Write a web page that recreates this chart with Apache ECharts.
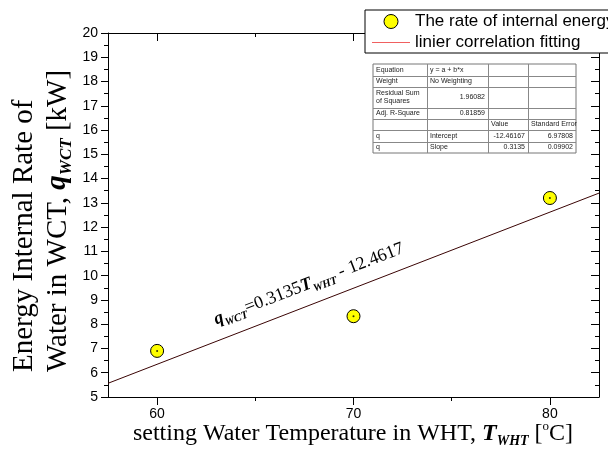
<!DOCTYPE html>
<html><head><meta charset="utf-8">
<script src="https://cdn.jsdelivr.net/npm/echarts@6/dist/echarts.min.js"></script>
<style>html,body{margin:0;padding:0;background:#fff}#c{width:608px;height:450px}</style>
</head><body><div id="c"></div>
<script>
// ---- data ----
const temperatures = [60, 70, 80];
const internalEnergyRate = [6.9, 8.33, 13.2];
const fitIntercept = -12.46167;
const fitSlope = 0.3135;
const xRange = [57.5, 82.5];
const yRange = [5, 20];
const xMajorTicks = [60, 70, 80];
const xMinorTicks = [65, 75];
const seriesNames = ['The rate of internal energy', 'linier correlation fitting'];
const tableRows = [
  ['Equation', 'y = a + b*x', '', ''],
  ['Weight', 'No Weighting', '', ''],
  ['Residual Sum\nof Squares', '1.96082', '', ''],
  ['Adj. R-Square', '0.81859', '', ''],
  ['', '', 'Value', 'Standard Error'],
  ['q', 'Intercept', '-12.46167', '6.97808'],
  ['q', 'Slope', '0.3135', '0.09902']
];

const scatterData = temperatures.map((t, i) => [t, internalEnergyRate[i]]);
const fitData = xRange.map(x => [x, fitIntercept + fitSlope * x]);

// ---- table graphics ----
const colX = [373, 427, 488, 528, 576];
const rowY = [64, 76, 87, 108, 119, 130, 142, 153];
const tableGraphics = [{type:'rect', shape:{x:colX[0], y:rowY[0], width:colX[4]-colX[0], height:rowY[7]-rowY[0]}, style:{fill:'#fff', stroke:'#777', lineWidth:1}, z:10}];
for (let r = 1; r < rowY.length - 1; r++) {
  tableGraphics.push({type:'line', shape:{x1:colX[0], y1:rowY[r]+0.5, x2:colX[4], y2:rowY[r]+0.5}, style:{stroke:'#888', lineWidth:1}, z:11});
}
for (let c = 1; c < colX.length - 1; c++) {
  tableGraphics.push({type:'line', shape:{x1:colX[c]+0.5, y1:rowY[0], x2:colX[c]+0.5, y2:rowY[7]}, style:{stroke:'#888', lineWidth:1}, z:11});
}
tableRows.forEach((row, r) => {
  row.forEach((txt, c) => {
    if (!txt) return;
    const rightAlign = (c >= 1 && r >= 2 && r <= 3) || (c >= 2 && r >= 5);
    const centerY = (rowY[r] + rowY[r+1]) / 2;
    tableGraphics.push({type:'text', z:12,
      style:{text: txt, x: rightAlign ? colX[c+1]-3 : colX[c]+3, y: centerY,
        align: rightAlign ? 'right' : 'left', verticalAlign:'middle',
        font:'7px "Liberation Sans", Arial, sans-serif', fill:'#222', lineHeight: 8}});
  });
});

const chart = echarts.init(document.getElementById('c'), null, {renderer:'canvas'});
const axisFont = {fontFamily:'"Liberation Sans", Arial, sans-serif', fontSize:14, color:'#000'};
const lineStyleBlk = {color:'#000', width:1};
const serif = '"Liberation Serif", "Times New Roman", serif';

chart.setOption({
  animation:false,
  backgroundColor:'#fff',
  grid:{left:108, top:33, right:9, bottom:53, containLabel:false},
  legend:{
    orient:'vertical', left:365, top:10,
    padding:[3,8,2,7], itemGap:4, itemWidth:38, itemHeight:14,
    backgroundColor:'#fff', borderColor:'#000', borderWidth:1,
    textStyle:{fontFamily:'"Liberation Sans", Arial, sans-serif', fontSize:17, color:'#000'},
    data:[
      {name:seriesNames[0], icon:'circle', itemStyle:{color:'#ffff00', borderColor:'#000', borderWidth:1}},
      {name:seriesNames[1], icon:'path://M0,0 L40,0 L40,1 L0,1 Z', itemStyle:{color:'#f06060'}}
    ],
    z:20
  },
  xAxis:[
    {type:'value', min:xRange[0], max:xRange[1], position:'bottom',
     axisLine:{show:true, onZero:false, lineStyle:lineStyleBlk},
     axisTick:{show:true, inside:false, length:8, lineStyle:lineStyleBlk, customValues:xMajorTicks},
     axisLabel:{show:true, margin:10, ...axisFont, customValues:xMajorTicks},
     splitLine:{show:false}},
    {type:'value', min:xRange[0], max:xRange[1], position:'bottom', gridIndex:0,
     axisLine:{show:false, onZero:false},
     axisTick:{show:true, inside:false, length:4, lineStyle:lineStyleBlk, customValues:xMinorTicks},
     axisLabel:{show:false}, splitLine:{show:false}},
    {type:'value', min:xRange[0], max:xRange[1], position:'top', gridIndex:0,
     axisLine:{show:true, onZero:false, lineStyle:lineStyleBlk},
     axisTick:{show:true, inside:true, length:8, lineStyle:lineStyleBlk, customValues:xMajorTicks},
     axisLabel:{show:false}, splitLine:{show:false}},
    {type:'value', min:xRange[0], max:xRange[1], position:'top', gridIndex:0,
     axisLine:{show:false, onZero:false},
     axisTick:{show:true, inside:true, length:4, lineStyle:lineStyleBlk, customValues:xMinorTicks},
     axisLabel:{show:false}, splitLine:{show:false}}
  ],
  yAxis:[
    {type:'value', min:yRange[0], max:yRange[1], interval:1, position:'left',
     axisLine:{show:true, onZero:false, lineStyle:lineStyleBlk},
     axisTick:{show:true, inside:false, length:7, lineStyle:lineStyleBlk},
     minorTick:{show:true, splitNumber:2, length:4, lineStyle:lineStyleBlk},
     axisLabel:{show:true, margin:10, ...axisFont},
     splitLine:{show:false}, minorSplitLine:{show:false}},
    {type:'value', min:yRange[0], max:yRange[1], interval:1, position:'right',
     axisLine:{show:true, onZero:false, lineStyle:lineStyleBlk},
     axisTick:{show:true, inside:true, length:8, lineStyle:lineStyleBlk},
     minorTick:{show:true, splitNumber:2, length:4, lineStyle:lineStyleBlk},
     axisLabel:{show:false}, splitLine:{show:false}, minorSplitLine:{show:false}}
  ],
  series:[
    {name:seriesNames[1], type:'line', data:fitData, symbol:'none', xAxisIndex:0, yAxisIndex:0,
     lineStyle:{color:'#3a0404', width:1}, itemStyle:{color:'#f06060'}, z:3, silent:true},
    {name:seriesNames[0], type:'scatter', data:scatterData, symbol:'circle', symbolSize:13,
     itemStyle:{color:'#ffff00', borderColor:'#000', borderWidth:1, opacity:1}, z:5},
    {name:'center', type:'scatter', data:scatterData, symbol:'circle', symbolSize:2,
     itemStyle:{color:'#000'}, z:6, silent:true}
  ],
  graphic:[
    ...tableGraphics,
    {type:'text', x:41, y:372, rotation:Math.PI/2, z:10,
     style:{text:'{n|Energy Internal Rate of}\n{n|Water in WCT, }{q|q}{s|WCT}{n| [kW]}',
       align:'left', verticalAlign:'middle',
       rich:{
         n:{fontFamily:serif, fontSize:29, lineHeight:34, verticalAlign:'middle', fill:'#000'},
         q:{fontFamily:serif, fontSize:29, fontWeight:'bold', fontStyle:'italic', lineHeight:34, verticalAlign:'middle', fill:'#000'},
         s:{fontFamily:serif, fontSize:17, fontWeight:'bold', fontStyle:'italic', lineHeight:17, verticalAlign:'bottom', fill:'#000'}
       }}},
    {type:'text', x:353, y:434, z:10,
     style:{text:'{n|setting Water Temperature in WHT, }{b|T}{s|WHT}{n| [}{u|o}{n|C]}',
       align:'center', verticalAlign:'middle',
       rich:{
         n:{fontFamily:serif, fontSize:24, lineHeight:28, verticalAlign:'middle', fill:'#000'},
         b:{fontFamily:serif, fontSize:24, fontWeight:'bold', fontStyle:'italic', lineHeight:28, verticalAlign:'middle', fill:'#000'},
         s:{fontFamily:serif, fontSize:14, fontWeight:'bold', fontStyle:'italic', lineHeight:14, verticalAlign:'bottom', fill:'#000'},
         u:{fontFamily:serif, fontSize:13, lineHeight:14, verticalAlign:'top', fill:'#000'}
       }}},
    {type:'text', x:309, y:284, rotation:21*Math.PI/180, z:10,
     style:{text:'{b|q}{s|WCT}{n|=0.3135}{b|T}{s|WHT}{n| - 12.4617}',
       align:'center', verticalAlign:'middle',
       rich:{
         n:{fontFamily:serif, fontSize:18, lineHeight:24, verticalAlign:'middle', fill:'#000'},
         b:{fontFamily:serif, fontSize:18, fontWeight:'bold', fontStyle:'italic', lineHeight:24, verticalAlign:'middle', fill:'#000'},
         s:{fontFamily:serif, fontSize:11, fontWeight:'bold', fontStyle:'italic', lineHeight:11, verticalAlign:'bottom', fill:'#000'}
       }}}
  ]
});
</script></body></html>
